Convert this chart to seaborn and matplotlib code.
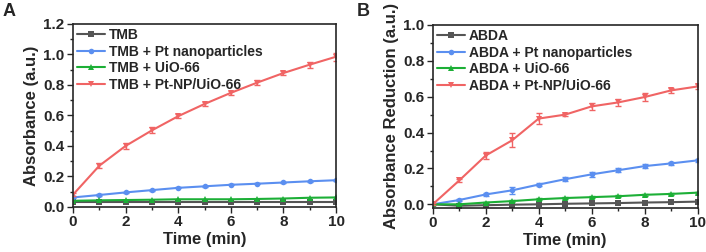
import numpy as np
import pandas as pd
import matplotlib
matplotlib.use("Agg")
import matplotlib.pyplot as plt
import seaborn as sns
from matplotlib.ticker import MultipleLocator

time = [0, 1, 2, 3, 4, 5, 6, 7, 8, 9, 10]

# panel A: absorbance
a_tmb = [0.035, 0.035, 0.035, 0.035, 0.035, 0.035, 0.035, 0.035, 0.035, 0.035, 0.035]
a_pt = [0.062, 0.078, 0.095, 0.110, 0.125, 0.135, 0.145, 0.152, 0.160, 0.168, 0.175]
a_uio = [0.040, 0.043, 0.045, 0.047, 0.050, 0.050, 0.050, 0.052, 0.055, 0.060, 0.062]
a_ptuio = [0.080, 0.270, 0.400, 0.502, 0.595, 0.675, 0.748, 0.815, 0.878, 0.933, 0.985]
a_pt_err = [0.003, 0.004, 0.004, 0.004, 0.004, 0.004, 0.004, 0.004, 0.004, 0.004, 0.004]
a_ptuio_err = [0.010, 0.015, 0.020, 0.020, 0.015, 0.015, 0.012, 0.015, 0.015, 0.020, 0.025]

# panel B: absorbance reduction
b_abda = [0.0, -0.008, -0.005, -0.002, 0.0, 0.003, 0.005, 0.007, 0.010, 0.012, 0.015]
b_pt = [0.0, 0.024, 0.055, 0.078, 0.110, 0.140, 0.167, 0.190, 0.213, 0.228, 0.245]
b_uio = [0.0, 0.0, 0.010, 0.018, 0.028, 0.035, 0.040, 0.045, 0.053, 0.058, 0.065]
b_ptuio = [0.0, 0.133, 0.272, 0.357, 0.478, 0.500, 0.546, 0.568, 0.598, 0.635, 0.657]
b_pt_err = [0.003, 0.005, 0.008, 0.020, 0.010, 0.010, 0.015, 0.010, 0.010, 0.010, 0.010]
b_uio_err = [0.002, 0.004, 0.005, 0.005, 0.005, 0.005, 0.005, 0.005, 0.006, 0.006, 0.006]
b_ptuio_err = [0.005, 0.010, 0.020, 0.040, 0.030, 0.010, 0.020, 0.020, 0.020, 0.015, 0.015]

colors = ["#555555", "#5b8ff0", "#1caf36", "#f06464"]
markers = ["s", "o", "^", "v"]

sns.set_style("ticks")
plt.rcParams["font.family"] = ["Liberation Sans", "DejaVu Sans"]
plt.rcParams["font.weight"] = "bold"
plt.rcParams["axes.labelweight"] = "bold"

fig = plt.figure(figsize=(7.06, 2.52), dpi=100)
axA = fig.add_axes([0.1034, 0.179, 0.3726, 0.726])
axB = fig.add_axes([0.613, 0.175, 0.375, 0.726])


def draw(ax, names, series, errs):
    for i, (name, vals) in enumerate(zip(names, series)):
        df = pd.DataFrame({"t": time, "v": vals})
        sns.lineplot(data=df, x="t", y="v", ax=ax, color=colors[i], marker=markers[i],
                     markersize=4, markeredgewidth=0, linewidth=1.5, label=name)
        if errs[i] is not None:
            ax.errorbar(time, vals, yerr=errs[i], fmt="none", ecolor=colors[i],
                        elinewidth=1, capsize=2.5, capthick=1)
    leg = ax.legend(loc="upper left", frameon=False, fontsize=10, handlelength=2.0,
                    borderaxespad=0.1, borderpad=0.2, labelspacing=0.18, handletextpad=0.3)
    for t in leg.get_texts():
        t.set_fontweight("bold")
    ax.set_xlim(0, 10)
    ax.xaxis.set_major_locator(MultipleLocator(2))
    ax.xaxis.set_minor_locator(MultipleLocator(1))
    ax.yaxis.set_major_locator(MultipleLocator(0.2))
    ax.yaxis.set_minor_locator(MultipleLocator(0.1))
    ax.tick_params(which="major", direction="out", length=4, width=1, labelsize=11, pad=2)
    ax.tick_params(which="minor", direction="out", length=2, width=1)
    for s in ax.spines.values():
        s.set_linewidth(1.2)
    ax.set_xlabel("Time (min)", fontsize=12, fontweight="bold", labelpad=2)


draw(axA, ["TMB", "TMB + Pt nanoparticles", "TMB + UiO-66", "TMB + Pt-NP/UiO-66"],
     [a_tmb, a_pt, a_uio, a_ptuio], [None, a_pt_err, None, a_ptuio_err])
axA.set_ylim(0, 1.2)
axA.set_ylabel("Absorbance (a.u.)", fontsize=12, fontweight="bold", labelpad=3)

draw(axB, ["ABDA", "ABDA + Pt nanoparticles", "ABDA + UiO-66", "ABDA + Pt-NP/UiO-66"],
     [b_abda, b_pt, b_uio, b_ptuio], [None, b_pt_err, b_uio_err, b_ptuio_err])
axB.set_ylim(-0.02, 1.0)
axB.set_ylabel("Absorbance Reduction (a.u.)", fontsize=12, fontweight="bold", labelpad=3)

for ax in (axA, axB):
    for lab in ax.get_xticklabels() + ax.get_yticklabels():
        lab.set_fontweight("bold")

fig.text(0.003, 0.99, "A", fontsize=13, fontweight="bold", va="top", ha="left")
fig.text(0.505, 0.99, "B", fontsize=13, fontweight="bold", va="top", ha="left")

fig.savefig("out.png", dpi=100)
